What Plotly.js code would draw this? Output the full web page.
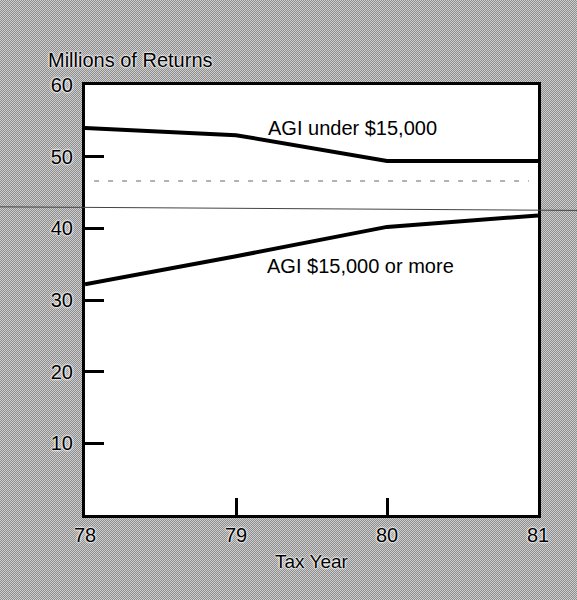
<!DOCTYPE html>
<html>
<head>
<meta charset="utf-8">
<script src="https://cdn.plot.ly/plotly-3.0.1.min.js"></script>
<style>
  html, body { margin: 0; padding: 0; }
  body {
    background-color: #aeaeae;
    background-image: repeating-conic-gradient(#8e8e8e 0 25%, #cdcdcd 0 50%);
    background-size: 2px 2px;
  }
  #chart { width: 577px; height: 600px; }
</style>
</head>
<body>
<div id="chart"></div>
<script>
// ---- data ----
const taxYears = [78, 79, 80, 81];
const agiUnder15k = [54.0, 53.0, 49.4, 49.4];
const agi15kOrMore = [32.2, 36.1, 40.2, 41.8];
const yTickVals = [10, 20, 30, 40, 50, 60];
const xTickVals = [78, 79, 80, 81];
const xTickText = ['78', '79', '80', '81'];
const seriesLabels = ['AGI under $15,000', 'AGI $15,000 or more'];
// scan artefacts (fold line and faint dashes) in data units
const foldLineY = [43.0, 42.5];
const faintDashY = [46.6, 46.6];

const FONT = 'Liberation Sans, Arial, Helvetica, sans-serif';
const halo = '0 0 2px #fff, 0 0 2px #fff, 0 0 3px #fff';

const traces = [
  { x: taxYears, y: agiUnder15k, mode: 'lines', line: { color: '#000', width: 4 }, hoverinfo: 'skip', showlegend: false },
  { x: taxYears, y: agi15kOrMore, mode: 'lines', line: { color: '#000', width: 4 }, hoverinfo: 'skip', showlegend: false }
];

const layout = {
  width: 577, height: 600,
  margin: { l: 85, r: 39, t: 85, b: 85 },
  paper_bgcolor: 'rgba(0,0,0,0)',
  plot_bgcolor: '#ffffff',
  showlegend: false,
  font: { family: FONT, color: '#000', size: 20 },
  xaxis: {
    range: [78, 81], tickvals: xTickVals, ticktext: xTickText,
    ticks: 'inside', ticklen: 17, tickwidth: 3, tickcolor: '#000',
    showline: true, linewidth: 3, linecolor: '#000', mirror: true,
    showgrid: false, zeroline: false,
    tickfont: { family: FONT, size: 20, color: '#000', shadow: halo },
    title: { text: 'Tax Year', font: { family: FONT, size: 19, color: '#000', shadow: halo }, standoff: 10 },
    fixedrange: true
  },
  yaxis: {
    range: [0, 60], tickvals: yTickVals,
    ticks: 'inside', ticklen: 19, tickwidth: 3, tickcolor: '#000',
    showline: true, linewidth: 3, linecolor: '#000', mirror: true,
    showgrid: false, zeroline: false,
    tickfont: { family: FONT, size: 20, color: '#000', shadow: halo },
    ticklabelstandoff: 5,
    fixedrange: true
  },
  annotations: [
    { text: 'Millions of Returns', xref: 'paper', yref: 'paper', x: -0.085, y: 1.058,
      xanchor: 'left', yanchor: 'middle', showarrow: false,
      font: { family: FONT, size: 20, color: '#000', shadow: halo } },
    { text: seriesLabels[0], xref: 'x', yref: 'y', x: 79.2, y: 54.0,
      xanchor: 'left', yanchor: 'middle', showarrow: false,
      font: { family: FONT, size: 20, color: '#000' } },
    { text: seriesLabels[1], xref: 'x', yref: 'y', x: 79.19, y: 34.7,
      xanchor: 'left', yanchor: 'middle', showarrow: false,
      font: { family: FONT, size: 20, color: '#000' } }
  ],
  shapes: [
    { type: 'line', xref: 'paper', yref: 'y', x0: -0.19, x1: 1.09, y0: foldLineY[0], y1: foldLineY[1],
      line: { color: '#444', width: 1 }, layer: 'above' },
    { type: 'line', xref: 'paper', yref: 'y', x0: 0.02, x1: 0.98, y0: faintDashY[0], y1: faintDashY[1],
      line: { color: '#999', width: 1.5, dash: '5px,9px' }, layer: 'below' }
  ]
};

Plotly.newPlot('chart', traces, layout, { staticPlot: true, displayModeBar: false });
</script>
</body>
</html>
